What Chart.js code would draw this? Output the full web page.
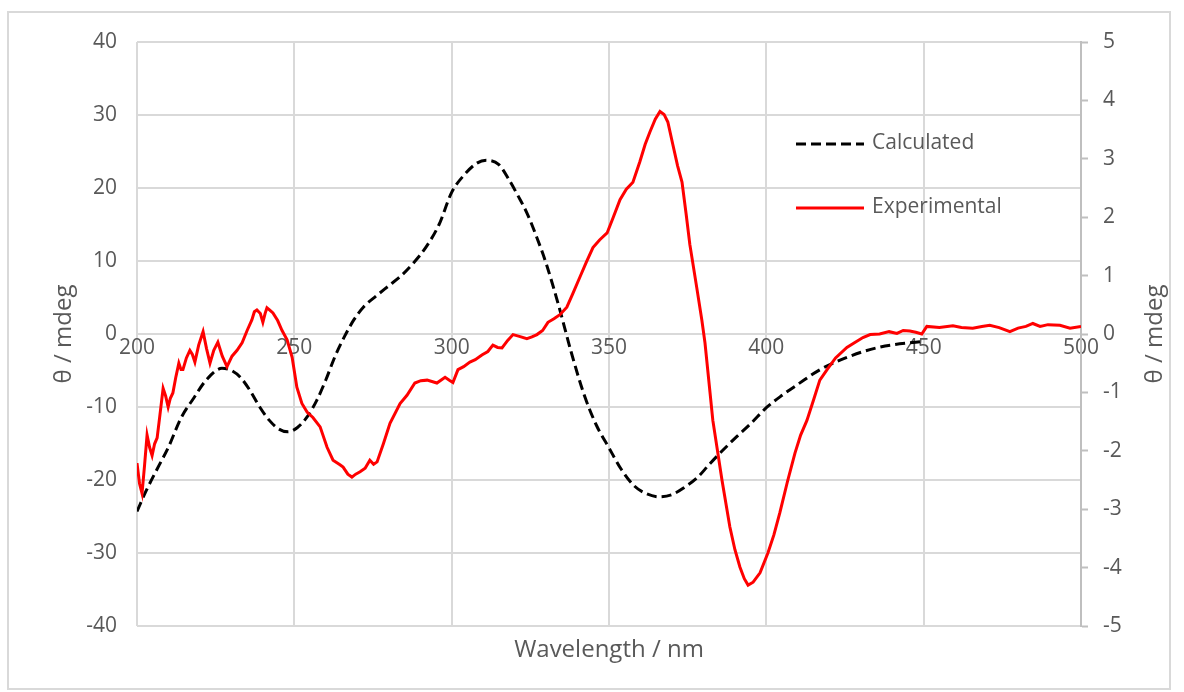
<!DOCTYPE html>
<html>
<head>
<meta charset="utf-8">
<title>CD spectrum</title>
<script src="https://cdn.jsdelivr.net/npm/chart.js@4.4.0/dist/chart.umd.min.js"></script>
<style>
html,body{margin:0;padding:0;background:#fff;}
canvas{display:block;}
</style>
</head>
<body>
<canvas id="cd" width="1184" height="692"></canvas>
<script>
// calculated spectrum, left axis (mdeg)
var calcNm=[200,203,207,210,214,218,222,227,230,233,236,239,242,245,248,251,254,257,260,263,266,269,272,276,280,284,288,292,296,300,304,308,311,315,318,321,324,327,330,334,338,342,346,350,354,358,362,366,370,374,378,382,386,390,395,400,405,410,417,425,436,450];
var calcMdeg=[-24.3,-21.4,-18,-15.5,-11.5,-8.8,-6.3,-4.7,-5.0,-6.0,-7.8,-10,-11.8,-13,-13.4,-12.8,-11.4,-9.2,-6.3,-3.0,-0.3,2.0,3.7,5.2,6.6,8.0,9.8,12.0,15.0,19.4,21.8,23.4,23.8,23.2,21.3,19.0,16.5,13.3,9.7,3.9,-2.5,-8.2,-12.5,-15.6,-18.6,-20.8,-21.9,-22.3,-22,-21,-19.7,-17.8,-16,-14.3,-12.3,-10.1,-8.4,-6.9,-4.9,-3.3,-1.8,-1.0];

// measured spectrum, right axis (mdeg)
var expNm=[200.0,200.8,201.6,202.4,203.2,204.0,204.8,205.6,206.4,207.3,208.3,209.1,209.9,210.6,211.4,212.3,213.3,214.0,214.6,215.7,216.8,217.6,218.4,219.6,221.0,222.1,223.2,224.4,225.7,227.1,228.6,230.2,231.8,233.4,235.0,236.5,237.3,238.1,239.2,240.0,240.7,241.3,242.2,243.2,244.7,246.1,247.7,249.3,250.8,252.4,254.1,255.9,258.2,260.4,262.3,264.5,265.5,267.0,268.3,269.5,270.9,272.5,274.0,275.2,276.3,278.3,280.4,283.6,285.8,288.3,290.2,292.2,295.3,297.9,299.5,300.4,302.0,303.8,305.8,307.5,309.6,311.5,313.1,314.6,316.0,317.8,319.5,321.5,323.9,325.5,327.1,328.9,330.6,332.5,334.4,336.6,338.5,340.8,342.8,344.9,347.0,349.4,351.3,353.5,355.5,357.6,359.8,361.5,363.0,364.7,366.2,367.5,368.7,370.3,371.8,373.2,374.5,375.7,377.9,379.5,380.5,383.0,385.9,388.4,390.0,391.6,393.0,394.2,395.8,398.0,400.5,402.4,404.3,406.7,409.1,410.9,412.9,415.0,417.0,419.3,422.0,425.6,428.0,430.7,433.0,436.0,439.0,441.5,443.5,445.6,447.5,449.4,451.0,455.0,459.3,462.0,465.6,468.5,471.0,474.0,477.4,480.0,482.5,484.7,487.0,489.5,493.3,496.5,500.0];
var expMdeg=[-2.21,-2.56,-2.73,-2.25,-1.73,-1.94,-2.08,-1.88,-1.78,-1.38,-0.93,-1.06,-1.25,-1.10,-1.01,-0.75,-0.50,-0.61,-0.61,-0.41,-0.28,-0.35,-0.48,-0.19,0.04,-0.25,-0.50,-0.28,-0.14,-0.38,-0.56,-0.38,-0.28,-0.15,0.06,0.24,0.38,0.41,0.35,0.20,0.35,0.45,0.41,0.36,0.23,0.06,-0.10,-0.40,-0.91,-1.19,-1.34,-1.43,-1.59,-1.94,-2.16,-2.24,-2.28,-2.40,-2.45,-2.40,-2.36,-2.30,-2.16,-2.23,-2.19,-1.88,-1.53,-1.19,-1.05,-0.84,-0.80,-0.79,-0.84,-0.74,-0.80,-0.83,-0.61,-0.56,-0.48,-0.44,-0.36,-0.30,-0.19,-0.23,-0.24,-0.11,-0.01,-0.04,-0.08,-0.05,-0.01,0.06,0.20,0.26,0.33,0.46,0.69,0.98,1.23,1.48,1.61,1.73,1.99,2.30,2.48,2.60,2.95,3.25,3.46,3.68,3.81,3.76,3.63,3.24,2.88,2.60,2.06,1.53,0.79,0.24,-0.15,-1.48,-2.50,-3.30,-3.69,-3.99,-4.19,-4.30,-4.25,-4.09,-3.75,-3.44,-3.06,-2.53,-2.04,-1.73,-1.48,-1.13,-0.79,-0.61,-0.41,-0.23,-0.15,-0.06,-0.01,0.00,0.04,0.01,0.06,0.05,0.03,0.00,0.13,0.11,0.14,0.11,0.10,0.13,0.15,0.11,0.04,0.10,0.13,0.18,0.13,0.16,0.15,0.10,0.13];

var xTicks=[200,250,300,350,400,450,500];
var leftTicks=[-40,-30,-20,-10,0,10,20,30,40];
var rightTicks=[-5,-4,-3,-2,-1,0,1,2,3,4,5];

var txt='#595959';
var grid='#d9d9d9';
var fnt={family:'"Open Sans", sans-serif',size:21};

function pts(xs,ys){
  return xs.map(function(x,i){return {x:x,y:ys[i]};});
}
function setTicks(list){
  return function(s){ s.ticks=list.map(function(v){return {value:v};}); };
}

// frame, axis titles and the in-plot legend
var decor={
  id:'decor',
  beforeDraw:function(c){
    var g=c.ctx;
    g.save();
    g.strokeStyle=grid;
    g.lineWidth=2;
    g.strokeRect(8,12,1162,677);
    g.restore();
  },
  afterDraw:function(c){
    var g=c.ctx;
    var a=c.chartArea;
    g.save();
    g.fillStyle=txt;
    g.font='24px "Open Sans", sans-serif';
    g.textAlign='center';
    g.textBaseline='middle';
    g.fillText('Wavelength / nm',(a.left+a.right)/2,650);
    var mid=(a.top+a.bottom)/2;
    [64,1155].forEach(function(x){
      g.save();
      g.translate(x,mid);
      g.rotate(-Math.PI/2);
      g.fillText('\u03b8 / mdeg',0,0);
      g.restore();
    });
    // legend
    g.font='21px "Open Sans", sans-serif';
    var rows=[[1,144],[0,208]];
    rows.forEach(function(r){
      var ds=c.data.datasets[r[0]];
      g.save();
      g.strokeStyle=ds.borderColor;
      g.lineWidth=ds.borderWidth;
      g.setLineDash(ds.borderDash||[]);
      g.beginPath();
      g.moveTo(796,r[1]);
      g.lineTo(864,r[1]);
      g.stroke();
      g.restore();
      g.textAlign='left';
      g.fillText(ds.label,872,r[1]-1);
    });
    g.restore();
  }
};

new Chart(document.getElementById('cd'),{
  type:'line',
  data:{
    datasets:[
      {
        label:'Experimental',
        data:pts(expNm,expMdeg),
        yAxisID:'y2',
        borderColor:'#ff0000',
        borderWidth:3,
        pointRadius:0,
        tension:0,
        order:0
      },
      {
        label:'Calculated',
        data:pts(calcNm,calcMdeg),
        yAxisID:'y',
        borderColor:'#000000',
        borderWidth:3,
        borderDash:[10,5],
        pointRadius:0,
        cubicInterpolationMode:'monotone',
        order:1
      }
    ]
  },
  options:{
    responsive:false,
    animation:false,
    layout:{padding:{left:0,right:0,top:42,bottom:66}},
    plugins:{legend:{display:false},tooltip:{enabled:false}},
    scales:{
      x:{
        type:'linear',
        position:{y:0},
        min:200,max:500,
        afterBuildTicks:setTicks(xTicks),
        grid:{color:grid,lineWidth:2,drawTicks:false},
        border:{color:grid,width:2},
        ticks:{color:txt,font:fnt,padding:1,maxRotation:0,autoSkip:false}
      },
      y:{
        position:'left',
        min:-40,max:40,
        afterBuildTicks:setTicks(leftTicks),
        afterFit:function(s){s.width=137;},
        grid:{color:grid,lineWidth:2,drawTicks:false},
        border:{display:false},
        ticks:{color:txt,font:fnt,padding:20}
      },
      y2:{
        position:'right',
        min:-5,max:5,
        afterBuildTicks:setTicks(rightTicks),
        afterFit:function(s){s.width=103;},
        grid:{drawOnChartArea:false,drawTicks:true,tickLength:7,tickColor:'#bfbfbf',tickWidth:2},
        border:{color:'#bfbfbf',width:2},
        ticks:{color:txt,font:fnt,padding:15}
      }
    }
  },
  plugins:[decor]
});
</script>
</body>
</html>
